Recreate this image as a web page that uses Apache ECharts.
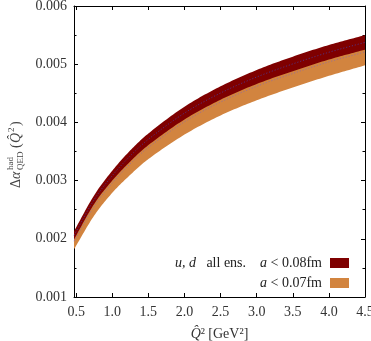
<!DOCTYPE html>
<html>
<head>
  <meta charset="UTF-8" />
  <script src="https://cdn.jsdelivr.net/npm/echarts@6.0.0/dist/echarts.min.js"></script>
  <style>
    html, body { margin: 0; padding: 0; background: #fff; }
    #chart { width: 371px; height: 341px; }
  </style>
</head>
<body>
  <div id="chart"></div>
  <script>
    // Q^2 grid (GeV^2)
    const qValues = [0.47, 0.75, 1.0, 1.25, 1.5, 2.0, 2.5, 3.0, 3.5, 4.0, 4.5];
    // a < 0.08fm band (dark red)
    const fineUpper = [0.00213, 0.00275, 0.00317, 0.00352, 0.00381, 0.00427, 0.00462, 0.00490, 0.00513, 0.00533, 0.00550];
    const fineLower = [0.00199, 0.00260, 0.00300, 0.00333, 0.00361, 0.00405, 0.00439, 0.00466, 0.00488, 0.00508, 0.00525];
    // a < 0.07fm band (orange)
    const coarseUpper = [0.00210, 0.00272, 0.00313, 0.00348, 0.00377, 0.00423, 0.00458, 0.00486, 0.00508, 0.00528, 0.00544];
    const coarseCenter = [0.00196, 0.00256, 0.00296, 0.00329, 0.00357, 0.00401, 0.00435, 0.00462, 0.00484, 0.00504, 0.00521];
    const coarseLower = [0.00182, 0.00240, 0.00279, 0.00310, 0.00337, 0.00379, 0.00412, 0.00438, 0.00460, 0.00480, 0.00498];
    const xTicks = [0.5, 1.0, 1.5, 2.0, 2.5, 3.0, 3.5, 4.0, 4.5];

    const darkRed = '#7f0000';
    const orange = '#d2843f';
    const serif = '"Liberation Serif", "DejaVu Serif", serif';
    const fineCenter = fineUpper.map((v, i) => (v + fineLower[i]) / 2);

    // smooth pixel points with a cubic Hermite in x (handles uneven spacing)
    function smoothPts(pts) {
      const n = pts.length;
      const m = pts.map((p, i) => {
        const a = pts[Math.max(i - 1, 0)], b = pts[Math.min(i + 1, n - 1)];
        return (b[1] - a[1]) / (b[0] - a[0]);
      });
      const out = [];
      for (let i = 0; i < n - 1; i++) {
        const [x0, y0] = pts[i], [x1, y1] = pts[i + 1], h = x1 - x0;
        for (let k = 0; k < 16; k++) {
          const t = k / 16, t2 = t * t, t3 = t2 * t;
          const y = (2 * t3 - 3 * t2 + 1) * y0 + (t3 - 2 * t2 + t) * h * m[i] +
            (-2 * t3 + 3 * t2) * y1 + (t3 - t2) * h * m[i + 1];
          out.push([x0 + t * h, y]);
        }
      }
      out.push(pts[n - 1]);
      return out;
    }

    function bandSeries(name, upper, lower, center, fill, dashColor, z) {
      return {
        name: name, type: 'custom', z: z, silent: true,
        data: [[qValues[0], lower[0]]],
        renderItem: function (params, api) {
          const up = smoothPts(qValues.map((q, i) => api.coord([q, upper[i]])));
          const lo = smoothPts(qValues.map((q, i) => api.coord([q, lower[i]])));
          const mid = smoothPts(qValues.map((q, i) => api.coord([q, center[i]])));
          return {
            type: 'group',
            children: [
              { type: 'polygon', shape: { points: up.concat(lo.reverse()) }, style: { fill: fill, stroke: null } },
              { type: 'polyline', shape: { points: mid }, style: { stroke: dashColor, lineWidth: 0.8, lineDash: [1.2, 1.8], fill: null } }
            ]
          };
        }
      };
    }

    const chart = echarts.init(document.getElementById('chart'));

    const xCommon = {
      type: 'value', min: 0.47, max: 4.5,
      axisLine: { onZero: false, lineStyle: { color: '#000', width: 1 } },
      axisTick: { inside: true, length: 4, customValues: xTicks, lineStyle: { color: '#000' } },
      splitLine: { show: false }
    };
    const yCommon = {
      type: 'value', min: 0.001, max: 0.006, interval: 0.001,
      axisLine: { show: true, onZero: false, lineStyle: { color: '#000', width: 1 } },
      axisTick: { inside: true, length: 4, lineStyle: { color: '#000' } },
      minorTick: { show: true, splitNumber: 2, length: 2.5, lineStyle: { color: '#000' } },
      splitLine: { show: false }
    };
    const richLegend = {
      i: { fontFamily: serif, fontSize: 14, fontStyle: 'italic', fill: '#222' },
      n: { fontFamily: serif, fontSize: 14, fill: '#222' }
    };

    chart.setOption({
      animation: false,
      grid: { left: 74, right: 6, top: 6, bottom: 44, outerBoundsMode: 'none', containLabel: false },
      xAxis: [
        Object.assign({}, xCommon, {
          position: 'bottom',
          name: '{i|Q̂}{n|²} {n|[GeV²]}',
          nameLocation: 'middle', nameGap: 30,
          nameTextStyle: {
            rich: {
              i: { fontFamily: serif, fontSize: 14, fontStyle: 'italic', color: '#333' },
              n: { fontFamily: serif, fontSize: 14, color: '#333' }
            }
          },
          axisLabel: {
            customValues: xTicks, margin: 8, fontFamily: serif, fontSize: 14, color: '#333',
            formatter: v => v.toFixed(1)
          }
        }),
        Object.assign({}, xCommon, { position: 'top', axisLabel: { show: false } })
      ],
      yAxis: [
        Object.assign({}, yCommon, {
          position: 'left',
          axisLabel: { margin: 7, fontFamily: serif, fontSize: 14, color: '#333', formatter: v => v.toFixed(3) }
        }),
        Object.assign({}, yCommon, { position: 'right', axisLabel: { show: false } })
      ],
      graphic: [
        {
          type: 'group', x: 16, y: 151, rotation: Math.PI / 2,
          children: [
            { type: 'text', x: -37, y: 0, style: { text: 'Δ', font: '14px ' + serif, fill: '#444', verticalAlign: 'middle' } },
            { type: 'text', x: -28, y: 0, style: { text: 'α', font: 'italic 14px ' + serif, fill: '#444', verticalAlign: 'middle' } },
            { type: 'text', x: -19, y: -5, style: { text: 'had', font: '9px ' + serif, fill: '#444', verticalAlign: 'middle' } },
            { type: 'text', x: -19, y: 5, style: { text: 'QED', font: '9px ' + serif, fill: '#444', verticalAlign: 'middle' } },
            { type: 'text', x: 3, y: 0, style: { text: '(', font: '14px ' + serif, fill: '#444', verticalAlign: 'middle' } },
            { type: 'text', x: 8, y: 0, style: { text: 'Q̂', font: 'italic 14px ' + serif, fill: '#444', verticalAlign: 'middle' } },
            { type: 'text', x: 19, y: -4, style: { text: '2', font: '9px ' + serif, fill: '#444', verticalAlign: 'middle' } },
            { type: 'text', x: 25, y: 0, style: { text: ')', font: '14px ' + serif, fill: '#444', verticalAlign: 'middle' } }
          ]
        },
        // legend
        { type: 'rect', shape: { x: 330, y: 258, width: 19, height: 10 }, style: { fill: darkRed } },
        { type: 'rect', shape: { x: 330, y: 278, width: 19, height: 10 }, style: { fill: orange } },
        {
          type: 'text', x: 322, y: 263,
          style: { text: '{i|u, d}{n|   all ens.    }{i|a}{n| < 0.08fm}', rich: richLegend, align: 'right', verticalAlign: 'middle' }
        },
        {
          type: 'text', x: 322, y: 283,
          style: { text: '{i|a}{n| < 0.07fm}', rich: richLegend, align: 'right', verticalAlign: 'middle' }
        }
      ],
      series: [
        bandSeries('a < 0.07fm', coarseUpper, coarseLower, coarseCenter, orange, '#8a6aa8', 2),
        bandSeries('a < 0.08fm', fineUpper, fineLower, fineCenter, darkRed, '#4a3a9a', 3)
      ]
    });
  </script>
</body>
</html>
